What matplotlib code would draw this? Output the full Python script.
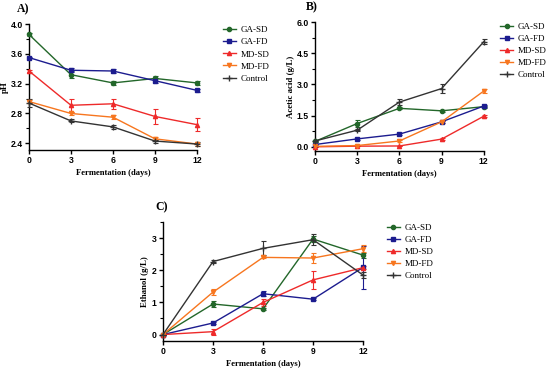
import matplotlib
matplotlib.use("Agg")
import matplotlib.pyplot as plt
from matplotlib.ticker import MultipleLocator, FormatStrFormatter
from matplotlib.lines import Line2D

days = [0, 3, 6, 9, 12]
series = ["GA-SD", "GA-FD", "MD-SD", "MD-FD", "Control"]

ph_gasd = [3.86, 3.32, 3.21, 3.27, 3.21]
ph_gafd = [3.55, 3.38, 3.37, 3.24, 3.11]
ph_mdsd = [3.37, 2.91, 2.93, 2.76, 2.65]
ph_mdfd = [2.96, 2.80, 2.75, 2.46, 2.39]
ph_ctrl = [2.94, 2.70, 2.62, 2.43, 2.39]
ph_err_gasd = [0.02, 0.05, 0.03, 0.03, 0.03]
ph_err_gafd = [0.01, 0.03, 0.03, 0.03, 0.02]
ph_err_mdsd = [0.01, 0.09, 0.07, 0.10, 0.09]
ph_err_mdfd = [0.02, 0.02, 0.03, 0.02, 0.02]
ph_err_ctrl = [0.05, 0.02, 0.03, 0.02, 0.03]

aa_gasd = [0.26, 1.12, 1.85, 1.73, 1.93]
aa_gafd = [0.11, 0.38, 0.61, 1.20, 1.96]
aa_mdsd = [0.00, 0.03, 0.04, 0.37, 1.47]
aa_mdfd = [0.02, 0.06, 0.28, 1.20, 2.68]
aa_ctrl = [0.28, 0.80, 2.15, 2.80, 5.05]
aa_err_gasd = [0.03, 0.15, 0.05, 0.05, 0.05]
aa_err_gafd = [0.02, 0.03, 0.03, 0.05, 0.05]
aa_err_mdsd = [0.01, 0.01, 0.01, 0.03, 0.04]
aa_err_mdfd = [0.03, 0.03, 0.03, 0.05, 0.10]
aa_err_ctrl = [0.05, 0.05, 0.15, 0.22, 0.12]

et_gasd = [0.0, 0.95, 0.80, 2.97, 2.47]
et_gafd = [0.0, 0.36, 1.27, 1.10, 2.09]
et_mdsd = [0.0, 0.09, 1.00, 1.70, 2.08]
et_mdfd = [0.0, 1.32, 2.40, 2.38, 2.67]
et_ctrl = [0.0, 2.27, 2.68, 2.95, 1.85]
et_err_gasd = [0.0, 0.08, 0.03, 0.10, 0.08]
et_err_gafd = [0.0, 0.03, 0.08, 0.03, 0.67]
et_err_mdsd = [0.0, 0.09, 0.10, 0.27, 0.05]
et_err_mdfd = [0.0, 0.10, 0.03, 0.17, 0.10]
et_err_ctrl = [0.0, 0.04, 0.22, 0.18, 0.10]

colors = ["#23672a", "#1c1c8f", "#ee2a2a", "#f7761f", "#333333"]
markers = ["o", "s", "^", "v", "+"]

serif = "Liberation Serif"
sans = "Liberation Sans"

fig = plt.figure(figsize=(5.46, 3.70), dpi=100)

def panel(rect, vals, errs, ylim, ymaj, ymin, ylabel, fmt, title, title_dx,
          ylabel_x, legend_xy):
    ax = fig.add_axes(rect)
    handles = []
    for v, e, c, m, name in zip(vals, errs, colors, markers, series):
        ms = 4 if m == "+" else 3
        ax.errorbar(days, v, yerr=e, color=c, marker=m, markersize=ms,
                    linewidth=1.0, elinewidth=0.8, capsize=1.8, capthick=0.8,
                    clip_on=False, zorder=3)
        handles.append(Line2D([], [], color=c, marker=m, markersize=ms,
                              linewidth=1.0, label=name))
    ax.set_xlim(0, 12)
    ax.set_ylim(*ylim)
    ax.set_xticks(days)
    ax.yaxis.set_major_locator(MultipleLocator(ymaj))
    ax.yaxis.set_minor_locator(MultipleLocator(ymin))
    ax.yaxis.set_major_formatter(fmt)
    for s in ["top", "right"]:
        ax.spines[s].set_visible(False)
    for s in ["left", "bottom"]:
        ax.spines[s].set_linewidth(1.0)
    ax.tick_params(axis="both", which="major", length=3, width=1.0, labelsize=6.2, pad=1.5)
    ax.tick_params(axis="y", which="minor", length=2, width=0.8)
    ax.tick_params(axis="x", which="minor", bottom=False)
    for lab in ax.get_xticklabels() + ax.get_yticklabels():
        lab.set_fontfamily(sans)
        lab.set_fontweight("bold")
    ax.set_xlabel("Fermentation (days)", fontfamily=serif, fontweight="bold", fontsize=6.2)
    ax.set_ylabel(ylabel, fontfamily=serif, fontweight="bold", fontsize=6.4)
    w = rect[2] * 546
    h = rect[3] * 370
    ax.xaxis.set_label_coords(0.5, -23.5 / h)
    ax.yaxis.set_label_coords(ylabel_x / w, 0.5)
    ax.xaxis.label.set_va("center")
    ax.yaxis.label.set_va("center")
    ax.text(title_dx / w, 1 + 15 / h, title, transform=ax.transAxes, fontfamily=serif,
            fontweight="bold", fontsize=8.5, ha="left", va="center")
    ax.legend(handles=handles, loc="upper left", bbox_to_anchor=legend_xy,
              bbox_transform=fig.transFigure, frameon=False,
              prop={"family": serif, "size": 6.5}, handlelength=1.45,
              handletextpad=0.55, labelspacing=0.42, borderaxespad=0,
              borderpad=0)
    return ax

panel([0.0531, 0.5946, 0.3077, 0.3404],
      [ph_gasd, ph_gafd, ph_mdsd, ph_mdfd, ph_ctrl],
      [ph_err_gasd, ph_err_gafd, ph_err_mdsd, ph_err_mdfd, ph_err_ctrl],
      (2.31, 4.0), 0.4, 0.2, "pH", FormatStrFormatter("%.1f"), "A)", -12,
      -24.5, (222.5 / 546, 1 - 26 / 370))
panel([0.577, 0.592, 0.309, 0.3485],
      [aa_gasd, aa_gafd, aa_mdsd, aa_mdfd, aa_ctrl],
      [aa_err_gasd, aa_err_gafd, aa_err_mdsd, aa_err_mdfd, aa_err_ctrl],
      (-0.2, 6.0), 1.5, 0.75, "Acetic acid (g/L)", FormatStrFormatter("%.1f"), "B)", -9,
      -24.5, (500 / 546, 1 - 22.5 / 370))
panel([0.2985, 0.0784, 0.3665, 0.3216],
      [et_gasd, et_gafd, et_mdsd, et_mdfd, et_ctrl],
      [et_err_gasd, et_err_gafd, et_err_mdsd, et_err_mdfd, et_err_ctrl],
      (-0.2, 3.5), 1, 0.5, "Ethanol (g/L)", FormatStrFormatter("%d"), "C)", -8,
      -18, (386.5 / 546, 1 - 223.5 / 370))

fig.savefig("out.png", dpi=100, facecolor="white")
